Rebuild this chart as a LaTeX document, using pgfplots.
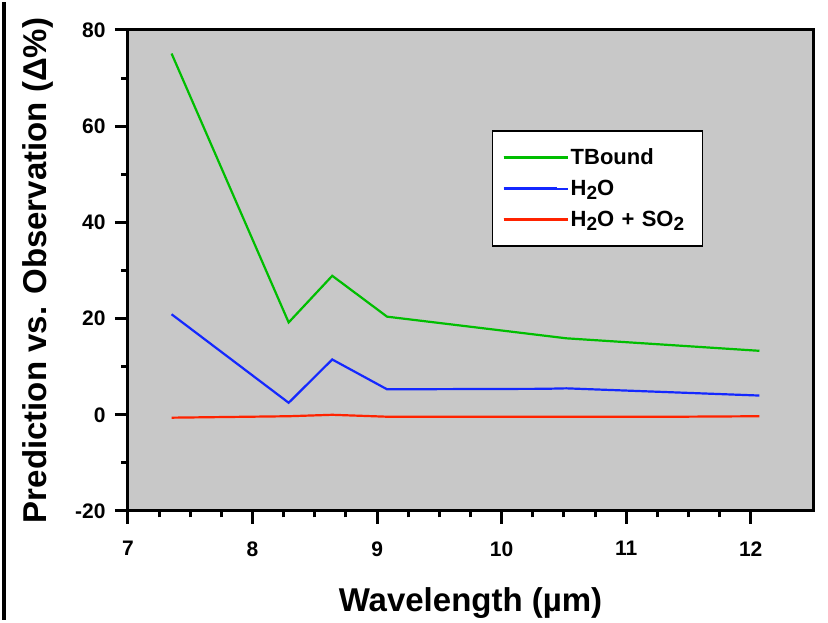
\documentclass[border=0pt]{standalone}
\usepackage{pgfplots}
\pgfplotsset{compat=1.18}
\usepackage{fontspec}
\setmainfont{Liberation Sans}

\definecolor{plotgray}{RGB}{200,200,200}
\definecolor{tbgreen}{RGB}{0,190,0}
\definecolor{h2oblue}{RGB}{20,40,255}
\definecolor{so2red}{RGB}{255,35,0}

\newcommand{\sub}[1]{\raisebox{-0.35ex}{\fontsize{19bp}{19bp}\selectfont #1}}

\begin{document}
\begin{tikzpicture}
\begin{axis}[
  scale only axis,
  width=685bp, height=481bp,
  at={(0,0)}, anchor=south west,
  xmin=7, xmax=12.5, ymin=-20, ymax=80,
  xtick={7,8,9,10,11,12},
  ytick={-20,0,20,40,60,80},
  minor x tick num=3,
  minor y tick num=1,
  xtick pos=bottom, ytick pos=left,
  tick align=outside,
  major tick length=13bp,
  minor tick length=6.5bp,
  every major tick/.append style={draw=black, line width=3bp},
  every minor tick/.append style={draw=black, line width=3bp},
  axis line style={line width=3bp},
  axis background/.style={fill=plotgray},
  /pgf/number format/assume math mode=true,
  ticklabel style={font=\bfseries\fontsize{21bp}{25bp}\selectfont},
  xticklabel style={yshift=-14bp},
  yticklabel style={xshift=-6bp},
  xlabel={Wavelength (µm)},
  ylabel={Prediction vs. Observation (Δ\%)},
  label style={font=\bfseries\fontsize{33bp}{38bp}\selectfont},
  xlabel style={at={(axis description cs:0.5,0)}, anchor=base, yshift=-101bp},
  ylabel style={at={(axis description cs:0,0.5)}, anchor=base, yshift=81bp},
  legend style={
    at={(axis cs:9.92,59.2)}, anchor=north west,
    draw=black, line width=1.5bp, fill=white,
    font=\bfseries\fontsize{22bp}{26bp}\selectfont,
    inner xsep=10bp, inner ysep=16bp,
    row sep=10bp,
    cells={anchor=west},
    text width=120bp,
  },
  legend image code/.code={
    \draw[#1, line width=2.4bp] (0bp,0bp) -- (53bp,0bp);
    \path (0bp,0bp) -- (64bp,0bp);
  },
  every axis plot/.append style={line width=2.2bp, line join=miter},
]
% TBound
\addplot[tbgreen] coordinates {
  (7.35,75.1) (8.29,19.2) (8.64,28.9) (9.08,20.4) (10.52,15.9) (12.07,13.3)
};
\addlegendentry{TBound}
% H2O only
\addplot[h2oblue] coordinates {
  (7.35,20.9) (8.29,2.5) (8.64,11.5) (9.08,5.3) (10.34,5.4) (10.52,5.5) (12.07,4.0)
};
\addlegendentry{H\sub{2}O}
% H2O + SO2
\addplot[so2red] coordinates {
  (7.35,-0.6) (8.29,-0.3) (8.64,0.0) (9.08,-0.4) (11.41,-0.4) (12.07,-0.3)
};
\addlegendentry{H\sub{2}O + SO\sub{2}}
\end{axis}
% frame edge on the left of the figure
\draw[line width=4bp] (-124bp,-109bp) -- (-124bp,509bp);
\useasboundingbox (-128bp,-109bp) rectangle (700bp,509bp);
\end{tikzpicture}
\end{document}
